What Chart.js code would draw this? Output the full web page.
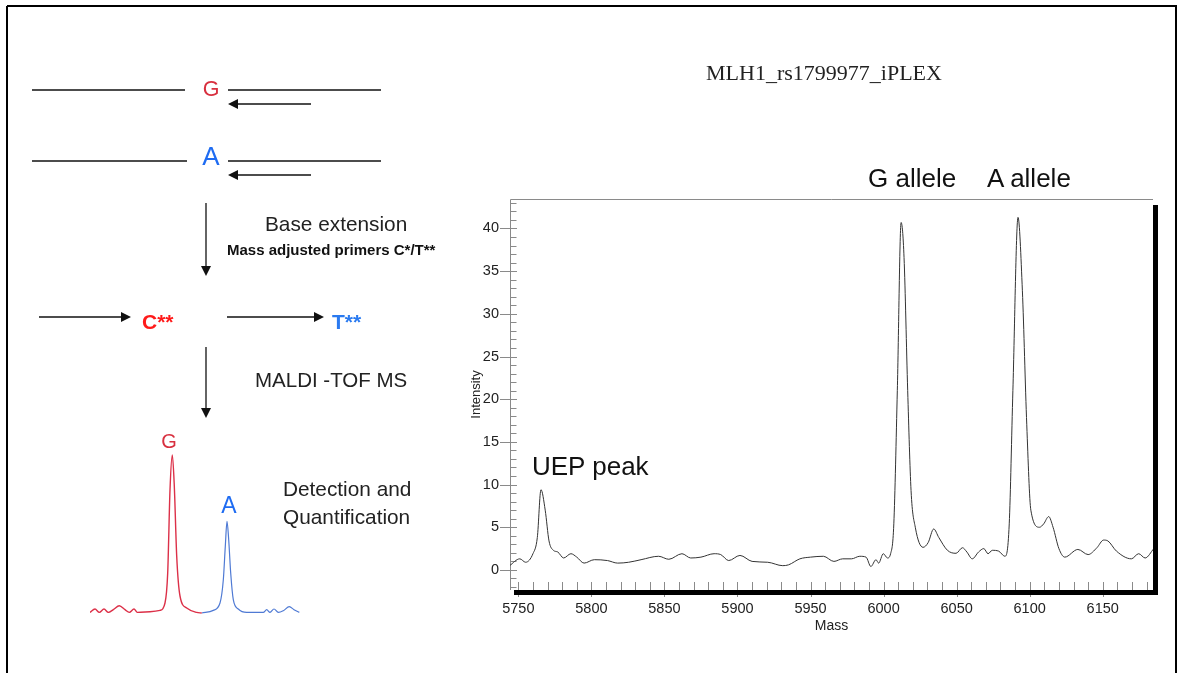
<!DOCTYPE html>
<html>
<head>
<meta charset="utf-8">
<script src="https://cdn.jsdelivr.net/npm/chart.js@4.4.1/dist/chart.umd.min.js"></script>
<style>
  html, body { margin:0; padding:0; background:#fff; }
  #wrap { position:relative; width:1181px; height:673px; overflow:hidden; background:#fff; }
  #main { position:absolute; left:0; top:0; }
  #mini { position:absolute; left:90px; top:443px; }
  svg { position:absolute; left:0; top:0; }
  svg text { font-family:"Liberation Sans", Arial, sans-serif; }
</style>
</head>
<body>
<div id="wrap">
  <canvas id="main" width="1181" height="673"></canvas>
  <canvas id="mini" width="210" height="172"></canvas>
  <svg width="1181" height="673" viewBox="0 0 1181 673">
    <!-- outer frame -->
    <g stroke="#000" stroke-width="2" fill="none">
      <line x1="7" y1="6" x2="1177" y2="6"/>
      <line x1="7" y1="6" x2="7" y2="673"/>
      <line x1="1176" y1="6" x2="1176" y2="673"/>
    </g>
    <!-- diagram lines -->
    <g stroke="#111" stroke-width="1.3" fill="none">
      <line x1="32" y1="90" x2="185" y2="90"/>
      <line x1="228" y1="90" x2="381" y2="90"/>
      <line x1="235" y1="104" x2="311" y2="104"/>
      <line x1="32" y1="161" x2="187" y2="161"/>
      <line x1="228" y1="161" x2="381" y2="161"/>
      <line x1="235" y1="175" x2="311" y2="175"/>
      <line x1="206" y1="203" x2="206" y2="268"/>
      <line x1="39" y1="317" x2="124" y2="317"/>
      <line x1="227" y1="317" x2="316" y2="317"/>
      <line x1="206" y1="347" x2="206" y2="410"/>
    </g>
    <g fill="#111">
      <polygon points="228,104 238,99 238,109"/>
      <polygon points="228,175 238,170 238,180"/>
      <polygon points="206,276 201,266 211,266"/>
      <polygon points="131,317 121,312 121,322"/>
      <polygon points="324,317 314,312 314,322"/>
      <polygon points="206,418 201,408 211,408"/>
    </g>
    <text x="211" y="96" font-size="21.5" fill="#d8303f" text-anchor="middle">G</text>
    <text x="211" y="165" font-size="26" fill="#1f6cf2" text-anchor="middle">A</text>
    <text x="265" y="230.5" font-size="20.8" fill="#222">Base extension</text>
    <text x="227" y="254.5" font-size="15" font-weight="bold" fill="#111">Mass adjusted primers C*/T**</text>
    <text x="142" y="329" font-size="21" font-weight="bold" fill="#ff1a1a">C**</text>
    <text x="332" y="329" font-size="21" font-weight="bold" fill="#2a7af0">T**</text>
    <text x="255" y="386.5" font-size="20.5" fill="#222">MALDI -TOF MS</text>
    <text x="169" y="447.5" font-size="20" fill="#d8303f" text-anchor="middle">G</text>
    <text x="229" y="513" font-size="23" fill="#1f6cf2" text-anchor="middle">A</text>
    <text x="283" y="495.7" font-size="20.8" fill="#222">Detection and</text>
    <text x="283" y="523.5" font-size="20.8" fill="#222">Quantification</text>
    <!-- right panel annotations -->
    <text x="824" y="80" font-size="22" fill="#222" text-anchor="middle" style="font-family:'Liberation Serif','Times New Roman',serif">MLH1_rs1799977_iPLEX</text>
    <text x="868" y="186.5" font-size="26" fill="#111">G allele</text>
    <text x="987" y="186.5" font-size="26" fill="#111">A allele</text>
    <text x="532" y="475" font-size="26" fill="#111">UEP peak</text>
  </svg>
</div>
<script>
// ---------- main spectrum data (Mass vs Intensity) ----------
const masses = [5744,5751,5755,5760,5763,5765.5,5768.4,5771,5774,5777,5781,5786,5790,5795,5802,5811,5818,5825.5,5834,5846,5853,5862,5868,5875,5884,5888.5,5894,5901.7,5910,5920.7,5931,5935,5942.7,5950,5958.8,5966,5972,5978,5983.7,5988,5991.3,5994.8,5996.6,5999.8,6002.7,6004.8,6007,6009.4,6012,6014,6016.5,6018.8,6021.7,6027,6030.5,6034.3,6037.8,6043.7,6049.6,6054,6057,6060.7,6065,6068.6,6071.5,6074.4,6078.8,6083,6086,6088.5,6092,6095,6098,6100.8,6106.7,6109.6,6113,6116,6120,6124,6133,6140,6146,6150.6,6153.5,6159.4,6169.6,6174.6,6179,6185];
const intensity = [0.5,1.3,0.9,1.9,3.8,9.4,7.0,3.4,2.3,2.1,1.4,1.9,1.5,0.8,1.2,1.1,0.8,0.9,1.2,1.6,1.25,1.9,1.4,1.5,1.9,1.8,1.1,1.7,1.0,0.9,0.5,0.6,1.3,1.5,1.6,1.0,1.3,1.3,1.6,1.5,0.4,1.2,0.8,1.9,1.4,1.9,5.4,21,40.7,36.6,21,9.3,5.0,2.65,3.2,4.8,3.8,2.3,1.95,2.6,2.1,1.3,2.1,2.5,1.9,2.3,2.2,1.6,5.4,21,41.3,32.7,17,7.0,5.0,5.4,6.25,5.0,2.5,1.5,2.4,1.8,2.6,3.5,3.4,2.2,1.3,1.9,1.4,2.5];
const xTicks = [5750,5800,5850,5900,5950,6000,6050,6100,6150];
const yTicks = [0,5,10,15,20,25,30,35,40];
const xMinorStep = 10;
const yMinorStep = 1;

// ---------- schematic spectrum (left panel) ----------
const gTraceX = [0,5,9.3,14,18.3,23.3,29.3,35,39.3,44,47.3,60,70,75,77.7,80,82.3,84.3,86.7,90,96.7,106.7,111.7];
const gTraceY = [0.6,4,0.6,4,0.6,3.3,7.3,3.3,0.6,4,0.6,1.3,2.6,10,40,123,158,127,57,17,5,0.6,0];
const aTraceX = [111.7,123.3,130,133.3,135.3,137,138.7,140.7,143.3,148.3,156.7,173.3,176.7,180,184,188.3,193.3,199.3,204,209.3];
const aTraceY = [0,2.6,10,33,66.6,91.6,73.3,40,13.3,4,0.6,0.6,3.3,0.6,4,0.6,2.3,6.3,3.3,0.6];

Chart.defaults.font.family = "'Liberation Sans', Arial, sans-serif";
Chart.defaults.color = '#222';

const framePlugin = {
  id: 'frame',
  beforeDatasetsDraw(chart) {
    const {ctx, chartArea: a, scales: {x, y}} = chart;
    ctx.save();
    ctx.strokeStyle = '#8a8a8a';
    ctx.lineWidth = 1;
    ctx.beginPath();
    ctx.moveTo(a.left + 0.5, a.bottom); ctx.lineTo(a.left + 0.5, a.top + 0.5); ctx.lineTo(a.right, a.top + 0.5);
    ctx.stroke();
    ctx.beginPath();
    for (let v = Math.ceil(y.min); v <= Math.floor(y.max); v += yMinorStep) {
      const py = Math.round(y.getPixelForValue(v)) + 0.5;
      const major = yTicks.includes(v);
      ctx.moveTo(a.left - (major ? 10 : 0), py);
      ctx.lineTo(a.left + (major ? 7 : 6.5), py);
    }
    for (let v = Math.ceil(x.min / xMinorStep) * xMinorStep; v <= x.max; v += xMinorStep) {
      const px = Math.round(x.getPixelForValue(v)) + 0.5;
      const major = xTicks.includes(v);
      ctx.moveTo(px, a.bottom - 8);
      ctx.lineTo(px, a.bottom + (major ? 7 : 0));
    }
    ctx.stroke();
    ctx.restore();
  },
  afterDatasetsDraw(chart) {
    const {ctx, chartArea: a} = chart;
    ctx.save();
    ctx.fillStyle = '#000';
    ctx.fillRect(a.left + 4, a.bottom, a.right - a.left + 1, 5);
    ctx.fillRect(a.right, a.top + 6, 5, a.bottom - a.top - 6 + 5);
    ctx.restore();
    const x = chart.scales.x;
    ctx.save();
    ctx.strokeStyle = '#8a8a8a';
    ctx.beginPath();
    xTicks.forEach(v => {
      const px = Math.round(x.getPixelForValue(v)) + 0.5;
      ctx.moveTo(px, a.bottom + 5); ctx.lineTo(px, a.bottom + 7);
    });
    ctx.stroke();
    ctx.restore();
  }
};

new Chart(document.getElementById('main'), {
  type: 'line',
  data: {
    datasets: [{
      data: masses.map((m, i) => ({x: m, y: intensity[i]})),
      borderColor: '#333',
      borderWidth: 1,
      pointRadius: 0,
      cubicInterpolationMode: 'monotone',
      fill: false
    }]
  },
  options: {
    responsive: false,
    animation: false,
    events: [],
    layout: { padding: { left: 460, right: 28, top: 199, bottom: 38 } },
    plugins: { legend: { display: false }, tooltip: { enabled: false } },
    scales: {
      x: {
        type: 'linear', min: 5744.3, max: 6184.4,
        afterFit: s => { s.height = 45; },
        afterBuildTicks: s => { s.ticks = xTicks.map(v => ({value: v})); },
        grid: { display: false, drawTicks: false },
        border: { display: false },
        ticks: { padding: 10, font: { size: 14.5 }, maxRotation: 0, autoSkip: false, callback: v => String(v) },
        title: { display: true, text: 'Mass', font: { size: 14 }, padding: { top: 0, bottom: 0 } }
      },
      y: {
        type: 'linear', min: -2.35, max: 43.45,
        afterFit: s => { s.width = 50; },
        afterBuildTicks: s => { s.ticks = yTicks.map(v => ({value: v})); },
        grid: { display: false, drawTicks: false },
        border: { display: false },
        ticks: { padding: 11, font: { size: 14.5 }, callback: v => String(v) },
        title: { display: true, text: 'Intensity', font: { size: 13 }, padding: { top: 9, bottom: 0 } }
      }
    }
  },
  plugins: [framePlugin]
});

new Chart(document.getElementById('mini'), {
  type: 'line',
  data: {
    datasets: [
      { data: gTraceX.map((v, i) => ({x: v, y: gTraceY[i]})), borderColor: '#dc3048', borderWidth: 1.4, pointRadius: 0, cubicInterpolationMode: 'monotone', clip: false },
      { data: aTraceX.map((v, i) => ({x: v, y: aTraceY[i]})), borderColor: '#4f7ad4', borderWidth: 1.2, pointRadius: 0, cubicInterpolationMode: 'monotone', clip: false }
    ]
  },
  options: {
    responsive: false,
    animation: false,
    events: [],
    layout: { padding: 0 },
    plugins: { legend: { display: false }, tooltip: { enabled: false } },
    scales: {
      x: { type: 'linear', min: 0, max: 210, display: false },
      y: { type: 'linear', min: -2, max: 170, display: false }
    }
  }
});
</script>
</body>
</html>
